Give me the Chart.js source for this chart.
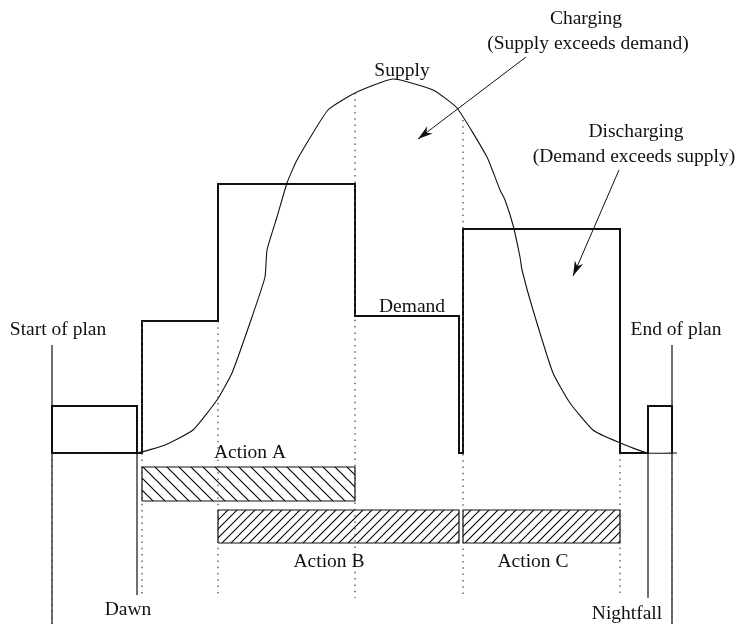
<!DOCTYPE html>
<html>
<head>
<meta charset="utf-8">
<script src="https://cdn.jsdelivr.net/npm/chart.js@4.4.0/dist/chart.umd.min.js"></script>
<style>
  html, body { margin: 0; padding: 0; background: #fff; }
  #wrap { width: 739px; height: 624px; }
</style>
</head>
<body>
<div id="wrap"><canvas id="planChart" width="739" height="624"></canvas></div>
<script>
// time axis runs 0..739, power level axis runs 0..624 (upwards)

// demand profile (step function)
const demandTime  = [137, 52, 52, 137, 137, 142, 142, 218, 218, 355, 355, 459, 459, 463, 463, 620, 620, 648, 648, 672, 672];
const demandLevel = [171, 171, 218, 218, 171, 171, 303, 303, 440, 440, 308, 308, 171, 171, 395, 395, 171, 171, 218, 218, 171];

// supply curve (solar)
const supplyTime  = [110, 137, 165, 193, 217, 232, 252, 265, 267, 277, 287, 297, 328, 355, 393, 433, 457, 487, 500, 505, 513, 520, 522, 533, 553, 570, 593, 618, 648, 677];
const supplyLevel = [171, 171, 179, 194, 224, 251, 307, 347, 374, 407, 441, 464, 514, 531, 545, 534, 516, 467, 434, 424, 399, 367, 354, 314, 251, 221, 194, 182, 171, 171];

// solid markers: start of plan, dawn, nightfall, end of plan
const markerTime   = [52, 137, 648, 672];
const markerTop    = [279, 218, 218, 279];
const markerBottom = [0, 29, 26, 0];

// dotted guide lines
const guideTime   = [52, 142, 218, 355, 463, 620, 672];
const guideTop    = [171, 303, 303, 531, 504, 171, 171];
const guideBottom = [0, 26, 26, 26, 26, 26, 0];

// actions (start, end, low, high)
const actionNames = ['Action A', 'Action B', 'Action C'];
const actionStart = [142, 218, 463];
const actionEnd   = [355, 459, 620];
const actionLow   = [123, 81, 81];
const actionHigh  = [157, 114, 114];

// text labels
const labelText  = ['Start of plan', 'Dawn', 'End of plan', 'Nightfall', 'Demand', 'Supply',
                    'Charging', '(Supply exceeds demand)', 'Discharging', '(Demand exceeds supply)',
                    'Action A', 'Action B', 'Action C'];
const labelTime  = [58, 128, 676, 627, 412, 402, 586, 588, 636, 634, 250, 329, 533];
const labelLevel = [289, 9, 289, 5, 312, 548, 600, 575, 487, 462, 166, 57, 57];

// arrows (from -> to)
const arrowFromTime  = [526, 619];
const arrowFromLevel = [567, 454];
const arrowToTime    = [418, 573];
const arrowToLevel   = [485, 348];

function pts(xs, ys) {
  return xs.map((x, i) => ({ x: x, y: ys[i] }));
}

function hatch(step, back) {
  const c = document.createElement('canvas');
  c.width = step; c.height = step;
  const g = c.getContext('2d');
  g.strokeStyle = '#000';
  g.lineWidth = 1.1;
  g.beginPath();
  if (back) {
    g.moveTo(0, 0); g.lineTo(step, step);
    g.moveTo(-1, step - 1); g.lineTo(1, step + 1);
    g.moveTo(step - 1, -1); g.lineTo(step + 1, 1);
  } else {
    g.moveTo(0, step); g.lineTo(step, 0);
    g.moveTo(-1, 1); g.lineTo(1, -1);
    g.moveTo(step - 1, step + 1); g.lineTo(step + 1, step - 1);
  }
  g.stroke();
  return g.createPattern(c, 'repeat');
}

const datasets = [];

// guides first so solid lines sit on top
guideTime.forEach((t, i) => {
  datasets.push({
    data: pts([t, t], [guideTop[i], guideBottom[i]]),
    borderColor: '#444',
    borderWidth: 1.2,
    borderDash: [1.5, 4.8],
  });
});

const patterns = [hatch(12, true), hatch(9, false), hatch(9, false)];
actionNames.forEach((n, i) => {
  datasets.push({
    label: n,
    data: pts([actionStart[i], actionEnd[i], actionEnd[i], actionStart[i], actionStart[i]],
              [actionLow[i], actionLow[i], actionHigh[i], actionHigh[i], actionLow[i]]),
    borderColor: '#111',
    borderWidth: 1.2,
    fill: 'shape',
    backgroundColor: patterns[i],
  });
});

markerTime.forEach((t, i) => {
  datasets.push({
    data: pts([t, t], [markerTop[i], markerBottom[i]]),
    borderColor: '#111',
    borderWidth: 1.2,
  });
});

datasets.push({
  label: 'Supply',
  data: pts(supplyTime, supplyLevel),
  borderColor: '#111',
  borderWidth: 1.1,
  tension: 0.15,
});

datasets.push({
  label: 'Demand',
  data: pts(demandTime, demandLevel),
  borderColor: '#111',
  borderWidth: 2,
});

datasets.forEach(d => {
  d.showLine = true;
  d.pointRadius = 0;
  d.pointHoverRadius = 0;
  if (d.tension === undefined) d.tension = 0;
  if (d.fill === undefined) d.fill = false;
});

// labels + arrows
const notes = {
  id: 'notes',
  afterDatasetsDraw(chart) {
    const ctx = chart.ctx;
    const xs = chart.scales.x, ys = chart.scales.y;
    ctx.save();
    ctx.fillStyle = '#111';
    ctx.font = '19.5px "Liberation Serif", "DejaVu Serif", serif';
    ctx.textAlign = 'center';
    ctx.textBaseline = 'alphabetic';
    labelText.forEach((t, i) => {
      ctx.fillText(t, xs.getPixelForValue(labelTime[i]), ys.getPixelForValue(labelLevel[i]));
    });

    ctx.strokeStyle = '#111';
    ctx.lineWidth = 1;
    arrowFromTime.forEach((t, i) => {
      const x1 = xs.getPixelForValue(t), y1 = ys.getPixelForValue(arrowFromLevel[i]);
      const x2 = xs.getPixelForValue(arrowToTime[i]), y2 = ys.getPixelForValue(arrowToLevel[i]);
      const a = Math.atan2(y2 - y1, x2 - x1);
      ctx.beginPath();
      ctx.moveTo(x1, y1);
      ctx.lineTo(x2, y2);
      ctx.stroke();
      // arrow head
      const len = 15, wid = 4.5;
      const bx = x2 - len * Math.cos(a), by = y2 - len * Math.sin(a);
      const nx = -Math.sin(a), ny = Math.cos(a);
      const mx = x2 - len * 0.7 * Math.cos(a), my = y2 - len * 0.7 * Math.sin(a);
      ctx.beginPath();
      ctx.moveTo(x2, y2);
      ctx.lineTo(bx + nx * wid, by + ny * wid);
      ctx.lineTo(mx, my);
      ctx.lineTo(bx - nx * wid, by - ny * wid);
      ctx.closePath();
      ctx.fill();
    });
    ctx.restore();
  }
};

const planChart = new Chart(document.getElementById('planChart'), {
  type: 'scatter',
  data: { datasets: datasets },
  options: {
    responsive: false,
    animation: false,
    devicePixelRatio: 1,
    layout: { padding: 0 },
    plugins: {
      legend: { display: false },
      tooltip: { enabled: false },
      title: { display: false }
    },
    scales: {
      x: { type: 'linear', min: 0, max: 739, display: false },
      y: { type: 'linear', min: 0, max: 624, display: false }
    }
  },
  plugins: [notes]
});
</script>
</body>
</html>
